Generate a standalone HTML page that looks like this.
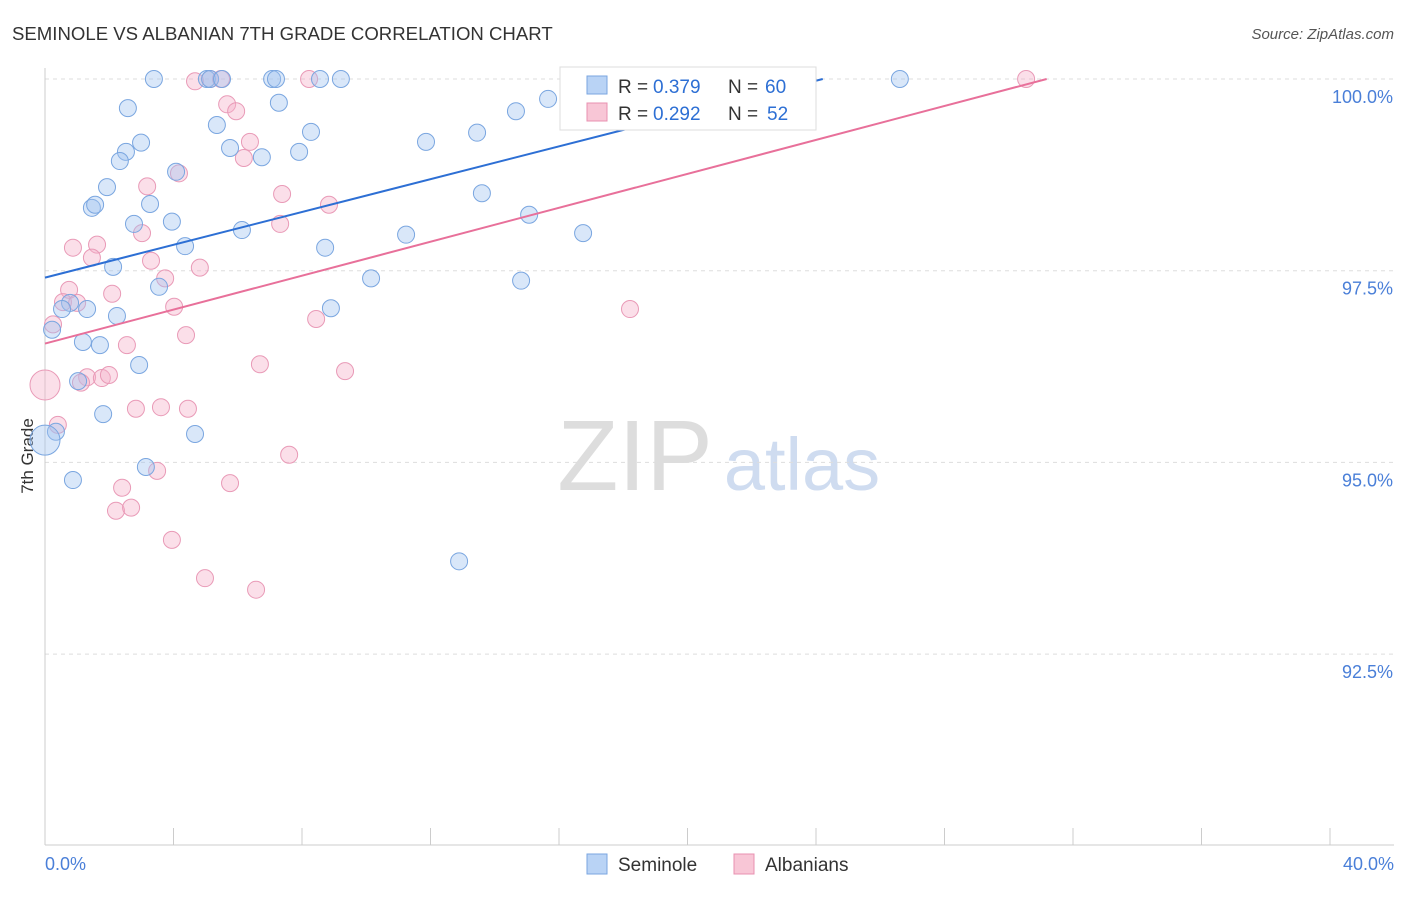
<!DOCTYPE html>
<html><head><meta charset="utf-8"><style>
body{margin:0;background:#fff;font-family:"Liberation Sans",sans-serif}
svg text{font-family:"Liberation Sans",sans-serif}
</style></head><body>
<svg id="c" width="1406" height="892">
<text x="12" y="40" font-size="18.6" fill="#333">SEMINOLE VS ALBANIAN 7TH GRADE CORRELATION CHART</text>
<text x="1394" y="39" font-size="15" fill="#555" font-style="italic" text-anchor="end">Source: ZipAtlas.com</text>
<text transform="translate(33,456) rotate(-90)" font-size="17" fill="#333" text-anchor="middle">7th Grade</text>
<g><text x="635" y="490" font-size="100" fill="#ddd" font-family="Liberation Serif" text-anchor="middle">ZIP</text><text x="802" y="490" font-size="74" fill="#cfdcf0" text-anchor="middle">atlas</text></g>
<g id="grid"></g><g id="axes"></g><g id="pts"></g><g id="lines"></g>
<g>
<rect x="560" y="67" width="256" height="63" fill="#fff" stroke="#ddd"/>
<rect x="587" y="76" width="20" height="18" fill="#b9d3f5" stroke="#7aa6e0"/>
<text x="618" y="93" font-size="19" fill="#333">R =</text><text x="653" y="93" font-size="19" fill="#2d6fd4">0.379</text>
<text x="728" y="93" font-size="19" fill="#333">N =</text><text x="765" y="93" font-size="19" fill="#2d6fd4">60</text>
<rect x="587" y="103" width="20" height="18" fill="#f8c6d6" stroke="#e890b0"/>
<text x="618" y="120" font-size="19" fill="#333">R =</text><text x="653" y="120" font-size="19" fill="#2d6fd4">0.292</text>
<text x="728" y="120" font-size="19" fill="#333">N =</text><text x="767" y="120" font-size="19" fill="#2d6fd4">52</text>
</g>
<g>
<rect x="587" y="854" width="20" height="20" fill="#b9d3f5" stroke="#7aa6e0"/><text x="618" y="871" font-size="19" fill="#333">Seminole</text>
<rect x="734" y="854" width="20" height="20" fill="#f8c6d6" stroke="#e890b0"/><text x="765" y="871" font-size="19" fill="#333">Albanians</text>
</g>
</svg>
<script>
const yTicks=[100,97.5,95,92.5];
const yTickLabels=["100.0%","97.5%","95.0%","92.5%"];
const xLabels=["0.0%","40.0%"];
const blueX=[3.39,5.04,5.14,5.51,7.07,7.19,8.56,9.21,26.61,2.58,7.28,15.66,14.66,5.35,2.99,8.28,13.45,11.86,2.52,5.76,7.91,6.75,2.33,4.08,1.93,13.60,1.46,1.56,3.27,2.77,3.95,6.13,15.07,11.24,16.75,4.36,8.72,2.12,10.15,14.82,3.55,0.78,0.53,1.31,8.90,2.24,0.22,1.18,1.71,2.93,1.03,1.81,0.34,0,4.67,3.14,0.87,12.89];
const blueY=[100,100,100,100,100,100,100,100,100,99.62,99.69,99.74,99.58,99.40,99.17,99.31,99.30,99.18,99.05,99.10,99.05,98.98,98.93,98.79,98.59,98.51,98.32,98.36,98.37,98.11,98.14,98.03,98.23,97.97,97.99,97.82,97.80,97.55,97.40,97.37,97.29,97.08,97.00,97.00,97.01,96.91,96.73,96.57,96.53,96.27,96.06,95.63,95.40,95.29,95.37,94.94,94.77,93.71];
const pinkX=[4.67,5.14,5.48,8.22,30.54,20.02,5.67,5.95,6.38,6.19,3.18,4.17,7.38,8.84,7.32,3.02,0.87,1.62,1.46,3.30,3.74,4.82,2.09,0.75,0.56,1.00,4.02,18.21,8.44,0.25,4.39,2.55,6.69,9.34,1.31,1.77,1.99,1.12,0,2.83,3.61,4.45,0.40,7.60,3.49,2.40,5.76,2.21,2.68,3.95,4.98,6.57];
const pinkY=[99.97,100,100,100,100,100,99.67,99.58,99.18,98.97,98.60,98.77,98.50,98.36,98.11,97.99,97.80,97.84,97.67,97.63,97.40,97.54,97.20,97.25,97.09,97.08,97.03,97.00,96.87,96.80,96.66,96.53,96.28,96.19,96.11,96.10,96.14,96.04,96.01,95.70,95.72,95.70,95.49,95.10,94.89,94.67,94.73,94.37,94.41,93.99,93.49,93.34];
const blueTrend=[0,97.41,24.21,100];
const pinkTrend=[0,96.55,31.18,100];
const NS="http://www.w3.org/2000/svg";
const sx=v=>45+v*32.125, sy=v=>79+(100-v)*76.68;
function mk(t,a,p){const e=document.createElementNS(NS,t);for(const k in a)e.setAttribute(k,a[k]);p.appendChild(e);return e;}
const grid=document.getElementById('grid'),axes=document.getElementById('axes'),pts=document.getElementById('pts'),lines=document.getElementById('lines');
yTicks.forEach((t,i)=>{
 const l=mk('line',{x1:45,x2:1394,y1:sy(t),y2:sy(t),stroke:'#ddd','stroke-dasharray':'4,4'},grid);
 
 
 const tx=mk('text',{x:1393,y:sy(t)+24,'font-size':18,fill:'#4a7fd8','text-anchor':'end'},axes);
 tx.textContent=yTickLabels[i];
 
 
});
mk('line',{x1:45,x2:45,y1:68,y2:845,stroke:'#ccc'},axes);
mk('line',{x1:45,x2:1394,y1:845,y2:845,stroke:'#ccc'},axes);
for(let i=0;i<=10;i++){const l=mk('line',{x1:sx(i*4),x2:sx(i*4),y1:828,y2:845,stroke:'#ccc'},axes);
 
 }
const x0=mk('text',{x:45,y:870,'font-size':18,fill:'#4a7fd8'},axes);x0.textContent=xLabels[0];


const x1=mk('text',{x:1394,y:870,'font-size':18,fill:'#4a7fd8','text-anchor':'end'},axes);x1.textContent=xLabels[1];


function series(X,Y,fill,stroke,name){X.forEach((x,i)=>{
 const r=(x===0)?15:8.5;
 const c=mk('circle',{cx:sx(x),cy:sy(Y[i]),r:r,fill:fill,stroke:stroke,'stroke-width':1},pts);
 
 
});}
series(pinkX,pinkY,'rgba(245,175,200,0.4)','#e99ab7','albanians-point');
series(blueX,blueY,'rgba(160,196,240,0.4)','#7aa6e0','seminole-point');
const bl=mk('line',{x1:sx(blueTrend[0]),y1:sy(blueTrend[1]),x2:sx(blueTrend[2]),y2:sy(blueTrend[3]),stroke:'#2d6fd4','stroke-width':2},lines);


const pl=mk('line',{x1:sx(pinkTrend[0]),y1:sy(pinkTrend[1]),x2:sx(pinkTrend[2]),y2:sy(pinkTrend[3]),stroke:'#e8709a','stroke-width':2},lines);


</script>
</body></html>
